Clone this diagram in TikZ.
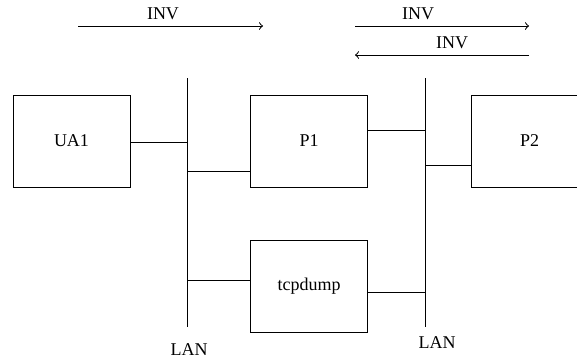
\documentclass[tikz,border=0pt]{standalone}
\usepackage{fontspec}
\setmainfont{Liberation Serif}
\tikzset{
  host/.style={draw, minimum width=58.5pt, minimum height=46pt, inner sep=0pt},
  lbl/.style={inner sep=0pt, font=\fontsize{9}{11}\selectfont},
}
\begin{document}
\begin{tikzpicture}[x=0.5pt, y=-0.5pt, line width=0.5pt]
    \clip (0,0) rectangle (577,360);
    % Rechner
    \node[host] (ua1) at (71.5,141) {};
    \node[lbl] at (ua1) {UA1};
    \node[host] (p1) at (309,141) {};
    \node[lbl] at (p1) {P1};
    \node[host] (p2) at (529.5,141) {};
    \node[lbl] at (p2) {P2};
    \node[host] (tcp) at (309,286) {};
    \node[lbl] at (tcp) {tcpdump};
    % LANs
    \coordinate (lan1) at (187,78);
    \coordinate (lan1end) at (187,327);
    \coordinate (lan2) at (425,78);
    \coordinate (lan2end) at (425,327);
    \draw (lan1) -- (lan1end);
    \draw (lan2) -- (lan2end);
    \node[lbl] (lan1lbl) at (189,350) {LAN};
    \node[lbl] (lan2lbl) at (437,343) {LAN};
    % Anschluesse
    \draw (ua1.east |- 0,142) -- (lan1 |- 0,142);
    \draw (p1.west |- 0,171) -- (lan1 |- 0,171);
    \draw (tcp.west |- 0,280) -- (lan1 |- 0,280);
    \draw (p1.east |- 0,130) -- (lan2 |- 0,130);
    \draw (p2.west |- 0,165) -- (lan2 |- 0,165);
    \draw (tcp.east |- 0,292) -- (lan2 |- 0,292);
    % Nachrichten
    \coordinate (inv1a) at (78,26);
    \coordinate (inv1b) at (263,26);
    \coordinate (inv2a) at (355,26);
    \coordinate (inv2b) at (529,26);
    \coordinate (inv3a) at (529,55);
    \coordinate (inv3b) at (355,55);
    \draw[->] (inv1a) -- (inv1b);
    \draw[->] (inv2a) -- (inv2b);
    \draw[->] (inv3a) -- (inv3b);
    \node[lbl] (inv1) at (163,14) {INV};
    \node[lbl] (inv2) at (418,14) {INV};
    \node[lbl] (inv3) at (452,43) {INV};
\end{tikzpicture}
\end{document}
